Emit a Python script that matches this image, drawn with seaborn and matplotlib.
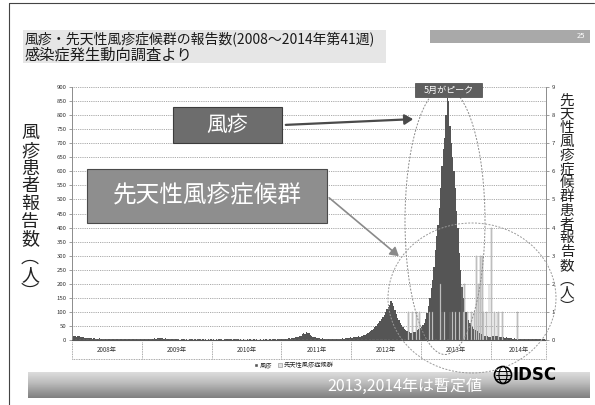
import numpy as np
import pandas as pd
import matplotlib
matplotlib.use("Agg")
import matplotlib.pyplot as plt
import matplotlib.patches as mpatches
import matplotlib.transforms as mtransforms
from matplotlib.ticker import MultipleLocator
import seaborn as sns

# ---------------- data ----------------
years = ["2008年", "2009年", "2010年", "2011年", "2012年", "2013年", "2014年"]
weeks_per_year = [52, 52, 52, 52, 52, 52, 41]

# weekly rubella reports
rubella_2008 = [12, 15, 14, 10, 13, 16, 12, 9, 11, 8, 7, 6, 8,
                7, 6, 5, 6, 5, 4, 5, 6, 4, 5, 4, 3, 4,
                5, 3, 4, 3, 2, 3, 4, 3, 2, 3, 2, 3, 2,
                4, 3, 2, 3, 2, 3, 2, 3, 4, 2, 3, 2, 3]
rubella_2009 = [2, 3, 2, 3, 4, 3, 4, 5, 4, 6, 5, 7, 6,
                8, 7, 6, 5, 6, 4, 5, 3, 4, 3, 2, 3, 2,
                3, 2, 1, 2, 3, 2, 1, 2, 1, 2, 3, 2, 1,
                2, 1, 2, 3, 2, 1, 2, 1, 2, 1, 2, 1, 2]
rubella_2010 = [1, 2, 1, 2, 1, 2, 3, 2, 1, 2, 3, 2, 2,
                3, 2, 1, 2, 3, 2, 2, 1, 2, 1, 2, 1, 1,
                2, 1, 2, 1, 1, 2, 1, 2, 1, 1, 2, 1, 2,
                1, 2, 1, 1, 2, 1, 2, 3, 2, 1, 2, 3, 2]
rubella_2011 = [3, 4, 3, 5, 4, 6, 5, 7, 6, 8, 9, 10, 12,
                14, 16, 20, 25, 22, 30, 26, 24, 18, 15, 12, 10, 9,
                8, 7, 6, 5, 6, 5, 4, 5, 4, 3, 4, 3, 4,
                3, 4, 3, 4, 5, 4, 6, 5, 7, 6, 8, 7, 9]
rubella_2012 = [8, 10, 9, 12, 11, 13, 12, 14, 15, 17, 19, 22, 25,
                28, 32, 36, 40, 45, 50, 56, 62, 68, 75, 82, 90, 100,
                110, 118, 125, 140, 132, 120, 105, 92, 80, 70, 60, 52, 45,
                40, 36, 32, 30, 28, 26, 25, 27, 30, 32, 35, 38, 42]
rubella_2013 = [45, 55, 60, 75, 95, 120, 150, 185, 215, 260, 320, 370, 410,
                470, 540, 620, 680, 720, 800, 860, 850, 760, 700, 650, 600, 540,
                460, 400, 310, 250, 190, 150, 120, 100, 85, 70, 60, 50, 45,
                40, 35, 32, 28, 25, 22, 20, 18, 16, 15, 14, 12, 10]
rubella_2014 = [12, 15, 13, 14, 16, 12, 10, 11, 9, 10, 8, 9, 7,
                8, 6, 7, 5, 6, 5, 4, 5, 4, 3, 4, 3, 4,
                3, 2, 3, 2, 3, 2, 3, 2, 2, 3, 2, 1, 2,
                2, 1]

# congenital rubella syndrome reports (weeks with at least one report)
crs_year = [2012, 2012, 2012, 2012,
            2013, 2013, 2013, 2013, 2013, 2013, 2013, 2013, 2013, 2013, 2013,
            2013, 2013, 2013, 2013, 2013, 2013, 2013, 2013, 2013, 2013, 2013,
            2014, 2014, 2014, 2014, 2014, 2014]
crs_week = [43, 46, 49, 51,
            7, 9, 15, 16, 18, 22, 24, 26, 29, 31, 32,
            33, 35, 38, 40, 42, 43, 45, 46, 47, 49, 51,
            1, 3, 5, 6, 9, 20]
crs_count = [1, 1, 1, 1,
             1, 1, 2, 1, 1, 1, 1, 1, 1, 2, 1,
             2, 1, 1, 1, 3, 2, 3, 3, 1, 1, 2,
             4, 1, 1, 1, 1, 1]

# ---------------- weekly table ----------------
rubella = (rubella_2008 + rubella_2009 + rubella_2010 + rubella_2011
           + rubella_2012 + rubella_2013 + rubella_2014)
n_weeks = len(rubella)
year_start = np.concatenate([[0], np.cumsum(weeks_per_year)[:-1]])
start_of = {2008 + i: int(s) for i, s in enumerate(year_start)}

crs = np.zeros(n_weeks)
for y, w, c in zip(crs_year, crs_week, crs_count):
    crs[start_of[y] + w - 1] = c

df = pd.DataFrame({"week": np.arange(n_weeks), "rubella": rubella, "crs": crs})

# ---------------- figure ----------------
W, H = 595, 405
sns.set_style("white")
plt.rcParams["font.family"] = ["Noto Sans CJK JP", "DejaVu Sans"]

fig = plt.figure(figsize=(W / 100, H / 100), dpi=100)
fig.patch.set_facecolor("white")


def fx(x):
    return x / W


def fy(y):
    return 1 - y / H


def rect(x0, y0, x1, y1, **kw):
    p = mpatches.Rectangle((fx(x0), fy(y1)), (x1 - x0) / W, (y1 - y0) / H,
                           transform=fig.transFigure, **kw)
    fig.add_artist(p)
    return p


ax_left, ax_right, ax_top, ax_bottom = 72, 546, 87, 340
ax = fig.add_axes([fx(ax_left), fy(ax_bottom), (ax_right - ax_left) / W,
                   (ax_bottom - ax_top) / H])

RUB_COLOR = "#555555"
CRS_COLOR = "#e4e4e4"

sns.barplot(data=df, x="week", y="rubella", native_scale=True, width=1.0,
            color=RUB_COLOR, saturation=1, errorbar=None, linewidth=0, ax=ax)
ax.set_ylim(0, 900)
ax.yaxis.set_major_locator(MultipleLocator(50))
ax.set_axisbelow(True)
ax.yaxis.grid(True, linestyle=(0, (1, 1.2)), color="#8c8c8c", linewidth=0.6)
ax.xaxis.grid(False)

ax2 = ax.twinx()
sns.barplot(data=df, x="week", y="crs", native_scale=True, width=0.6,
            color=CRS_COLOR, saturation=1, errorbar=None,
            edgecolor="#8a8a8a", linewidth=0.3, ax=ax2)
ax2.set_ylim(0, 9)
ax2.yaxis.set_major_locator(MultipleLocator(1))

for a in (ax, ax2):
    a.set_xlim(-0.5, n_weeks - 0.5)
    a.set_xlabel("")
    a.set_ylabel("")

ax.set_xticks(np.arange(0, n_weeks, 2))
ax.set_xticklabels([])
ax.tick_params(axis="x", length=2, width=0.4, color="#777777", direction="out")
ax.tick_params(axis="y", labelsize=4.3, labelcolor="#333333", length=2,
               width=0.5, color="#777777", pad=2)
ax2.tick_params(axis="y", labelsize=4.3, labelcolor="#333333", length=2,
                width=0.5, color="#777777", pad=2)

for a in (ax, ax2):
    a.spines["top"].set_visible(False)
ax.spines["left"].set_color("#8c8c8c")
ax.spines["left"].set_linestyle((0, (1, 1)))
ax.spines["left"].set_linewidth(0.7)
ax.spines["bottom"].set_color("#555555")
ax.spines["bottom"].set_linewidth(0.8)
ax.spines["right"].set_visible(False)
ax2.spines["left"].set_visible(False)
ax2.spines["bottom"].set_visible(False)
ax2.spines["right"].set_color("#8c8c8c")
ax2.spines["right"].set_linewidth(0.7)

# year category row under the axis
trans = mtransforms.blended_transform_factory(ax.transData, fig.transFigure)
bounds = list(year_start - 0.5) + [n_weeks - 0.5]
box_top, box_bot = 342, 359
for b in bounds:
    ax.plot([b, b], [fy(box_top), fy(box_bot)], transform=trans, clip_on=False,
            color="#8c8c8c", lw=0.6, ls=(0, (1, 1)))
ax.plot([bounds[0], bounds[-1]], [fy(box_bot), fy(box_bot)], transform=trans,
        clip_on=False, color="#8c8c8c", lw=0.6, ls=(0, (1, 1)))
for i, label in enumerate(years):
    cx = (bounds[i] + bounds[i + 1]) / 2
    ax.text(cx, fy(350.5), label, transform=trans, ha="center", va="center",
            fontsize=4.5, color="#333333")

# legend
handles = [mpatches.Patch(facecolor=RUB_COLOR, label="風疹"),
           mpatches.Patch(facecolor=CRS_COLOR, edgecolor="#8a8a8a",
                          linewidth=0.4, label="先天性風疹症候群")]
fig.legend(handles=handles, loc="center", bbox_to_anchor=(fx(294), fy(365)),
           ncol=2, fontsize=4.5, frameon=False, handlelength=0.6,
           handleheight=0.6, columnspacing=1.0, handletextpad=0.3)

# axis titles (vertical writing)
fig.text(fx(30), fy(213), "\n".join("風疹患者報告数︵人︶"), ha="center",
         va="center", fontsize=13, linespacing=0.98, color="#222222")
fig.text(fx(567), fy(204), "\n".join("先天性風疹症候群患者報告数︵人︶"),
         ha="center", va="center", fontsize=10.5, linespacing=0.98,
         color="#222222")

# slide title
rect(23, 30, 386, 63, facecolor="#e6e6e6", edgecolor="none", zorder=0)
rect(430, 30, 590, 43, facecolor="#a9a9a9", edgecolor="none", zorder=1)
fig.text(fx(585), fy(36.5), "25", ha="right", va="center", fontsize=5.5,
         color="white")
fig.text(fx(25), fy(39), "風疹・先天性風疹症候群の報告数(2008～2014年第41週)",
         ha="left", va="center", fontsize=10, color="#1a1a1a")
fig.text(fx(25), fy(55.5), "感染症発生動向調査より", ha="left", va="center",
         fontsize=11, color="#1a1a1a")

# slide frame
fig.add_artist(plt.Line2D([fx(9), fx(9)], [fy(3), fy(405)],
                          transform=fig.transFigure, color="#444444", lw=0.8))
fig.add_artist(plt.Line2D([fx(9), fx(594)], [fy(3), fy(3)],
                          transform=fig.transFigure, color="#444444", lw=0.8))

# callouts
Z = 6
fig.add_artist(mpatches.Ellipse((fx(445), fy(221)), 80 / W, 267 / H,
                                transform=fig.transFigure, fill=False,
                                edgecolor="#8a8a8a", lw=0.7, ls=(0, (2, 1.5)),
                                zorder=Z))
fig.add_artist(mpatches.Ellipse((fx(472), fy(298)), 168 / W, 150 / H,
                                transform=fig.transFigure, fill=False,
                                edgecolor="#9a9a9a", lw=0.7, ls=(0, (2, 1.5)),
                                zorder=Z))

rect(173, 107, 282, 143, facecolor="#6d6d6d", edgecolor="#3c3c3c", lw=0.8,
     zorder=Z)
fig.text(fx(227.5), fy(125), "風疹", ha="center", va="center", fontsize=15,
         color="white", zorder=Z + 1)
rect(87, 169, 327, 223, facecolor="#8e8e8e", edgecolor="#4a4a4a", lw=0.8,
     zorder=Z)
fig.text(fx(207), fy(196), "先天性風疹症候群", ha="center", va="center",
         fontsize=17, color="white", zorder=Z + 1)
rect(415, 83, 482, 97, facecolor="#5e5e5e", edgecolor="#444444", lw=0.5,
     zorder=Z)
fig.text(fx(448.5), fy(90), "5月がピーク", ha="center", va="center",
         fontsize=6.5, color="white", zorder=Z + 1)

fig.add_artist(mpatches.FancyArrowPatch((fx(283), fy(125)), (fx(416), fy(119)),
                                        transform=fig.transFigure,
                                        arrowstyle="-|>,head_length=5,head_width=3",
                                        color="#4a4a4a", lw=1.6, zorder=Z))
fig.add_artist(mpatches.FancyArrowPatch((fx(327), fy(196)), (fx(401), fy(258)),
                                        transform=fig.transFigure,
                                        arrowstyle="-|>,head_length=5,head_width=3",
                                        color="#8a8a8a", lw=1.2, zorder=Z))

# footer banner
bx = fig.add_axes([fx(28), fy(398), (590 - 28) / W, (398 - 372) / H], zorder=2)
grad = np.linspace(0.22, 0.58, 64).reshape(-1, 1)
bx.imshow(grad, aspect="auto", cmap="Greys", vmin=0, vmax=1,
          extent=[0, 1, 0, 1], origin="upper")
bx.set_axis_off()
fig.text(fx(405), fy(386), "2013,2014年は暫定値", ha="center", va="center",
         fontsize=11.5, color="white", zorder=5)

# IDSC mark
fig.add_artist(mpatches.Ellipse((fx(503), fy(375)), 17 / W, 17 / H,
                                transform=fig.transFigure, fill=False,
                                edgecolor="black", lw=1.2, zorder=5))
fig.add_artist(mpatches.Ellipse((fx(503), fy(375)), 8 / W, 17 / H,
                                transform=fig.transFigure, fill=False,
                                edgecolor="black", lw=0.8, zorder=5))
for yy in (371, 375, 379):
    fig.add_artist(plt.Line2D([fx(495.5), fx(510.5)], [fy(yy), fy(yy)],
                              transform=fig.transFigure, color="black", lw=0.7,
                              zorder=5))
fig.text(fx(513), fy(375), "IDSC", ha="left", va="center", fontsize=12,
         fontweight="bold", color="black", family="DejaVu Sans", zorder=5)

fig.savefig("out.png", dpi=100)
